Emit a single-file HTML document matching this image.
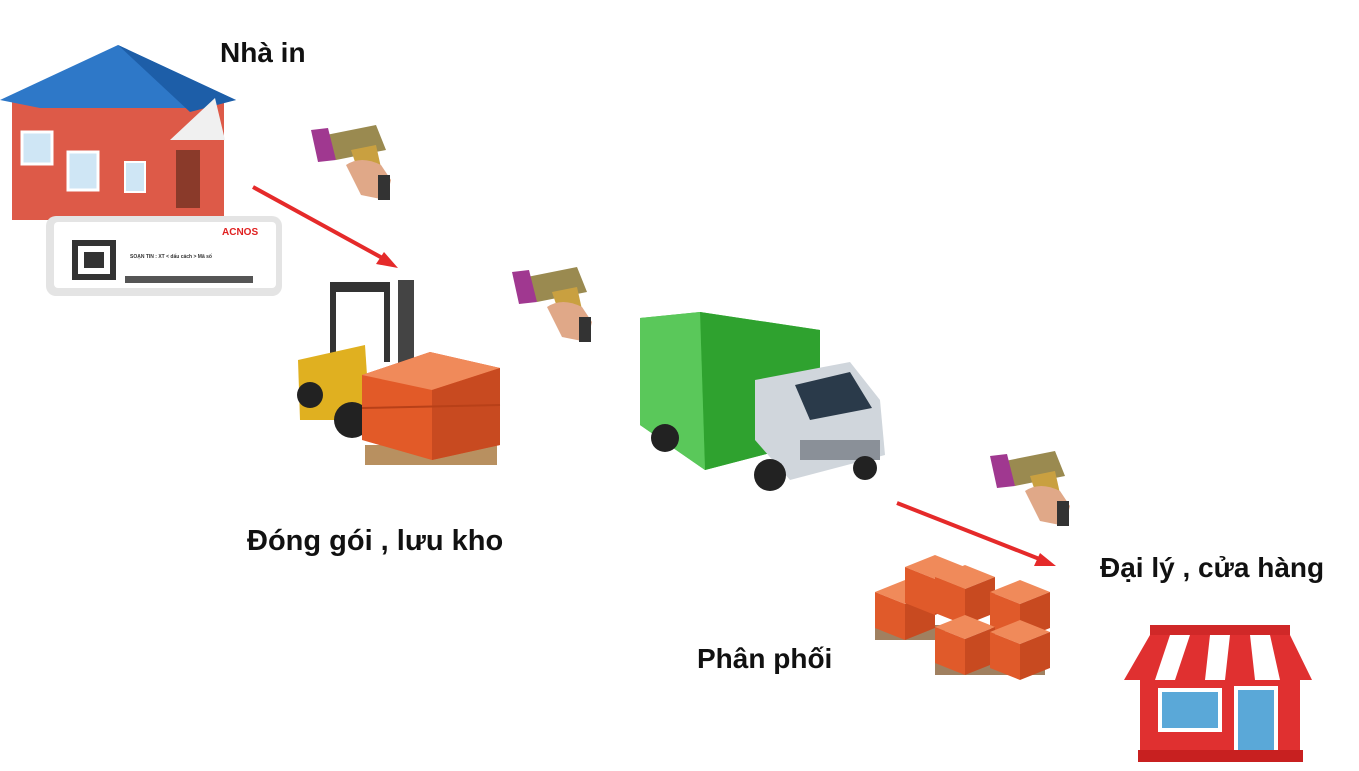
<!DOCTYPE html>
<html><head><meta charset="utf-8"><style>
html,body{margin:0;padding:0;background:#fff;}
svg{display:block}
text{font-family:"Liberation Sans",sans-serif;font-weight:bold;fill:#111}
</style></head><body>
<svg width="1359" height="771" viewBox="0 0 1359 771" xmlns="http://www.w3.org/2000/svg">
<defs>
<g id="scan">
 <path d="M20,15 L70,5 L80,30 L30,40 Z" fill="#9a8a50"/>
 <path d="M5,10 L22,8 L30,40 L12,42 Z" fill="#a03890"/>
 <path d="M45,30 L70,25 L80,70 L60,75 Z" fill="#c9a040"/>
 <path d="M40,45 Q55,35 75,45 L85,60 L80,80 L55,75 Z" fill="#e0a888"/>
 <rect x="72" y="55" width="12" height="25" fill="#333"/>
</g>
<g id="box">
 <path d="M0,12 L30,0 L60,12 L30,24 Z" fill="#f08a5a"/>
 <path d="M0,12 L30,24 L30,60 L0,48 Z" fill="#e05a2a"/>
 <path d="M30,24 L60,12 L60,48 L30,60 Z" fill="#c84a20"/>
</g>
</defs>

<!-- House -->
<rect x="12" y="100" width="212" height="120" fill="#dd5a48"/>
<polygon points="0,100 118,45 236,100 200,108 40,108" fill="#2e78c8"/>
<polygon points="118,45 236,100 190,112" fill="#1d5ea8"/>
<polygon points="170,140 215,98 225,140" fill="#f0f0f0"/>
<rect x="22" y="132" width="30" height="32" fill="#cfe6f5" stroke="#fff" stroke-width="3"/>
<rect x="68" y="152" width="30" height="38" fill="#cfe6f5" stroke="#fff" stroke-width="3"/>
<rect x="176" y="150" width="24" height="58" fill="#8a3a2a"/>
<rect x="125" y="162" width="20" height="30" fill="#cfe6f5" stroke="#fff" stroke-width="2"/>

<!-- Card -->
<rect x="46" y="216" width="236" height="80" rx="10" fill="#e4e4e4"/>
<rect x="54" y="222" width="222" height="66" rx="4" fill="#fff"/>
<rect x="72" y="240" width="44" height="40" fill="#333"/>
<rect x="78" y="246" width="32" height="28" fill="#fff"/>
<rect x="84" y="252" width="20" height="16" fill="#333"/>
<text x="222" y="235" font-size="10" style="fill:#e02020">ACNOS</text>
<text x="130" y="258" font-size="5" style="fill:#333">SOẠN TIN : XT &lt; dấu cách &gt; Mã số</text>
<rect x="125" y="276" width="128" height="7" fill="#555"/>

<!-- Arrows -->
<line x1="253" y1="187" x2="386" y2="260" stroke="#e52a2a" stroke-width="4"/>
<polygon points="398,268 376,264 384,252" fill="#e52a2a"/>
<line x1="897" y1="503" x2="1042" y2="560" stroke="#e52a2a" stroke-width="4"/>
<polygon points="1056,566 1034,566 1040,553" fill="#e52a2a"/>

<!-- Scanners -->
<use href="#scan" transform="translate(306,120)"/>
<use href="#scan" transform="translate(507,262)"/>
<use href="#scan" transform="translate(985,446)"/>

<!-- Forklift -->
<rect x="330" y="282" width="60" height="10" fill="#333"/>
<rect x="330" y="282" width="6" height="80" fill="#333"/>
<rect x="384" y="282" width="6" height="80" fill="#333"/>
<rect x="398" y="280" width="16" height="120" fill="#444"/>
<path d="M298,360 L365,345 L370,420 L300,420 Z" fill="#e0b020"/>
<circle cx="310" cy="395" r="13" fill="#222"/>
<circle cx="352" cy="420" r="18" fill="#222"/>
<rect x="365" y="445" width="132" height="20" fill="#b89060"/>
<path d="M362,375 L430,352 L500,368 L500,445 L432,460 L362,440 Z" fill="#e25a28"/>
<path d="M362,375 L430,352 L500,368 L432,390 Z" fill="#f08a5a"/>
<path d="M432,390 L500,368 L500,445 L432,460 Z" fill="#c84a20"/>
<line x1="362" y1="408" x2="500" y2="405" stroke="#b84018" stroke-width="2"/>

<!-- Truck -->
<path d="M640,318 L700,312 L820,330 L820,440 L705,470 L640,425 Z" fill="#3cb83c"/>
<path d="M700,312 L820,330 L820,440 L705,470 Z" fill="#2fa22f"/>
<path d="M640,318 L700,312 L705,470 L640,425 Z" fill="#5ac85a"/>
<path d="M755,380 L850,362 L880,400 L885,455 L790,480 L755,440 Z" fill="#d0d6dc"/>
<path d="M795,385 L850,372 L872,408 L810,420 Z" fill="#2a3a4a"/>
<rect x="800" y="440" width="80" height="20" fill="#8a9098"/>
<circle cx="665" cy="438" r="14" fill="#222"/>
<circle cx="770" cy="475" r="16" fill="#222"/>
<circle cx="865" cy="468" r="12" fill="#222"/>

<!-- Pallet boxes -->
<rect x="875" y="625" width="70" height="15" fill="#a08060"/>
<rect x="935" y="650" width="110" height="25" fill="#a08060"/>
<use href="#box" transform="translate(875,580)"/>
<use href="#box" transform="translate(905,555)"/>
<use href="#box" transform="translate(935,565)"/>
<use href="#box" transform="translate(990,580)"/>
<use href="#box" transform="translate(935,615)"/>
<use href="#box" transform="translate(990,620)"/>

<!-- Shop -->
<rect x="1140" y="670" width="160" height="92" fill="#e03030"/>
<rect x="1160" y="690" width="60" height="40" fill="#5aa8d8" stroke="#fff" stroke-width="4"/>
<rect x="1236" y="688" width="40" height="70" fill="#5aa8d8" stroke="#fff" stroke-width="4"/>
<rect x="1138" y="750" width="165" height="12" fill="#c82020"/>
<rect x="1150" y="625" width="140" height="10" fill="#d02828"/>
<path d="M1150,635 L1290,635 L1312,680 L1124,680 Z" fill="#fff"/>
<path d="M1150,635 L1170,635 L1155,680 L1124,680 Z M1190,635 L1210,635 L1205,680 L1175,680 Z M1230,635 L1250,635 L1255,680 L1225,680 Z M1270,635 L1290,635 L1312,680 L1280,680 Z" fill="#e03030"/>

<!-- Labels -->
<text x="220" y="62" font-size="28">Nhà in</text>
<text x="247" y="550" font-size="29">Đóng gói , lưu kho</text>
<text x="697" y="668" font-size="28">Phân phối</text>
<text x="1100" y="577" font-size="28">Đại lý , cửa hàng</text>
</svg>
</body></html>
